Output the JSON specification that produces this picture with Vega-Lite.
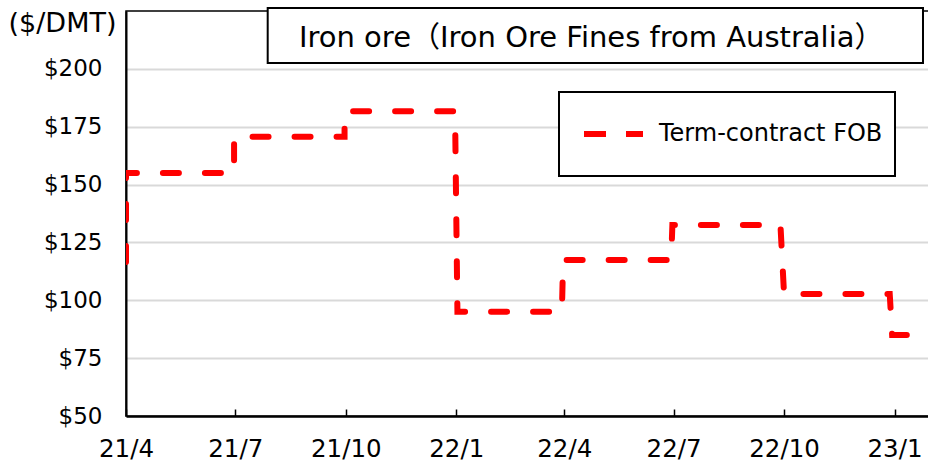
{
  "$schema": "https://vega.github.io/schema/vega-lite/v6.json",
  "width": 803,
  "height": 405,
  "autosize": {"type": "none"},
  "padding": {"left": 126, "top": 11, "right": 0, "bottom": 47},
  "background": "white",
  "config": {
    "font": "DejaVu Sans",
    "view": {"stroke": "black", "strokeWidth": 1.5},
    "legend": {"strokeWidth": 2}
  },
  "data": {
    "values": [
      {"i": 1, "date": "2021-04-01", "price": 116.5, "series": "Term-contract FOB"},
      {"i": 2, "date": "2021-04-01", "price": 155, "series": "Term-contract FOB"},
      {"i": 3, "date": "2021-06-30", "price": 155, "series": "Term-contract FOB"},
      {"i": 4, "date": "2021-06-30", "price": 170.7, "series": "Term-contract FOB"},
      {"i": 5, "date": "2021-09-30", "price": 170.7, "series": "Term-contract FOB"},
      {"i": 6, "date": "2021-09-30", "price": 181.7, "series": "Term-contract FOB"},
      {"i": 7, "date": "2021-12-31", "price": 181.7, "series": "Term-contract FOB"},
      {"i": 8, "date": "2022-01-02", "price": 95.1, "series": "Term-contract FOB"},
      {"i": 9, "date": "2022-03-30", "price": 95.1, "series": "Term-contract FOB"},
      {"i": 10, "date": "2022-03-31", "price": 117.4, "series": "Term-contract FOB"},
      {"i": 11, "date": "2022-06-29", "price": 117.4, "series": "Term-contract FOB"},
      {"i": 12, "date": "2022-06-30", "price": 132.5, "series": "Term-contract FOB"},
      {"i": 13, "date": "2022-09-28", "price": 132.5, "series": "Term-contract FOB"},
      {"i": 14, "date": "2022-10-01", "price": 102.7, "series": "Term-contract FOB"},
      {"i": 15, "date": "2022-12-28", "price": 102.7, "series": "Term-contract FOB"},
      {"i": 16, "date": "2022-12-30", "price": 85, "series": "Term-contract FOB"},
      {"i": 17, "date": "2023-01-31", "price": 85, "series": "Term-contract FOB"}
    ]
  },
  "layer": [
    {
      "mark": {"type": "line", "strokeDash": [16, 26], "strokeWidth": 6, "strokeCap": "round", "clip": true},
      "encoding": {
        "x": {
          "field": "date", "type": "temporal",
          "scale": {"type": "utc", "domain": [1617235200000, 1675011600000]},
          "axis": {
            "title": null, "grid": false,
            "values": [1617235200000, 1625097600000, 1633046400000, 1640995200000, 1648771200000, 1656633600000, 1664582400000, 1672531200000],
            "labelExpr": "utcFormat(datum.value, '%y/%-m')",
            "labelFontSize": 24.5, "labelColor": "black", "labelPadding": 28,
            "tickSize": -7, "tickColor": "black", "tickWidth": 1.5,
            "domainColor": "black", "domainWidth": 2.5, "labelFlush": false, "labelOverlap": false
          }
        },
        "y": {
          "field": "price", "type": "quantitative",
          "scale": {"domain": [50, 225], "nice": false, "zero": false},
          "axis": {
            "values": [50, 75, 100, 125, 150, 175, 200],
            "labelExpr": "'$' + datum.value",
            "labelFontSize": 23, "labelColor": "black", "labelPadding": 24,
            "ticks": false, "domainColor": "black", "domainWidth": 2,
            "grid": true, "gridColor": "#d9d9d9", "gridWidth": 2,
            "title": "($/DMT)", "titleAngle": 0, "titleX": -64, "titleY": 20,
            "titleAlign": "center", "titleBaseline": "alphabetic",
            "titleFontSize": 27, "titleFontWeight": "normal", "titleColor": "black"
          }
        },
        "order": {"field": "i", "type": "quantitative"},
        "color": {
          "field": "series", "type": "nominal",
          "scale": {"range": ["#ff0000"]},
          "legend": {
            "title": null, "orient": "none", "legendX": 433, "legendY": 81,
            "strokeColor": "black", "fillColor": "white",
            "padding": 12, "clipHeight": 60,
            "symbolType": "stroke", "symbolSize": 3481, "symbolStrokeWidth": 6,
            "symbolDash": [22, 20], "symbolOffset": 10,
            "labelFontSize": 24, "labelOffset": 13, "labelColor": "black", "labelLimit": 400
          }
        }
      }
    },
    {
      "data": {"values": [{}]},
      "mark": {"type": "rect", "fill": "white", "stroke": "black", "strokeWidth": 2, "clip": false},
      "encoding": {
        "x": {"datum": 1627430400000, "type": "temporal"},
        "x2": {"datum": 1674579600000},
        "y": {"datum": 226.3, "type": "quantitative"},
        "y2": {"datum": 202.5}
      }
    },
    {
      "data": {"values": [{}]},
      "mark": {"type": "text", "align": "left", "baseline": "middle", "fontSize": 29, "color": "black", "font": "DejaVu Sans, Noto Sans CJK JP"},
      "encoding": {
        "x": {"datum": 1629676800000, "type": "temporal"},
        "y": {"datum": 213.5, "type": "quantitative"},
        "text": {"value": "Iron ore（Iron Ore Fines from Australia）"}
      }
    }
  ]
}
